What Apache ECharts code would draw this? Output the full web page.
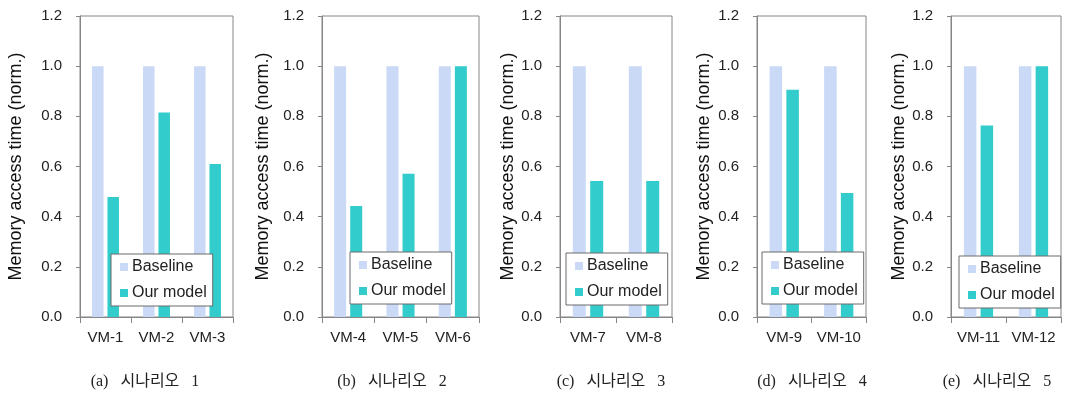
<!DOCTYPE html>
<html>
<head>
<meta charset="utf-8">
<script src="https://cdn.jsdelivr.net/npm/echarts@6/dist/echarts.min.js"></script>
<style>
html,body{margin:0;padding:0;background:#fff;}
#chart{width:1067px;height:395px;}
</style>
</head>
<body>
<div id="chart"></div>
<script>
// ---- data ----
const cats1 = ['VM-1', 'VM-2', 'VM-3'];
const cats2 = ['VM-4', 'VM-5', 'VM-6'];
const cats3 = ['VM-7', 'VM-8'];
const cats4 = ['VM-9', 'VM-10'];
const cats5 = ['VM-11', 'VM-12'];
const baseline1 = [1.0, 1.0, 1.0];
const baseline2 = [1.0, 1.0, 1.0];
const baseline3 = [1.0, 1.0];
const baseline4 = [1.0, 1.0];
const baseline5 = [1.0, 1.0];
const ours1 = [0.478, 0.815, 0.61];
const ours2 = [0.443, 0.571, 1.0];
const ours3 = [0.542, 0.542];
const ours4 = [0.906, 0.494];
const ours5 = [0.763, 1.0];
const seriesNames = ['Baseline', 'Our model'];
const yTicks = [0.0, 0.2, 0.4, 0.6, 0.8, 1.0, 1.2];
const yAxisTitle = 'Memory access time (norm.)';
const captions = ['(a) 시나리오 1', '(b) 시나리오 2', '(c) 시나리오 3', '(d) 시나리오 4', '(e) 시나리오 5'];

const panels = [
  {cats: cats1, base: baseline1, ours: ours1},
  {cats: cats2, base: baseline2, ours: ours2},
  {cats: cats3, base: baseline3, ours: ours3},
  {cats: cats4, base: baseline4, ours: ours4},
  {cats: cats5, base: baseline5, ours: ours5}
];

// ---- layout (styling) ----
const layout = [
  {left: 80,  width: 153, nameGap: 55, barW: 11.5, legend: {left: 111, top: 254}, capX: 145},
  {left: 322, width: 157, nameGap: 50, barW: 12,   legend: {left: 350, top: 252}, capX: 392},
  {left: 560, width: 112, nameGap: 43, barW: 13,   legend: {left: 566, top: 253}, capX: 611},
  {left: 757, width: 109, nameGap: 44, barW: 12.5, legend: {left: 762, top: 252}, capX: 812},
  {left: 951, width: 110, nameGap: 42, barW: 12.5, legend: {left: 959, top: 256}, capX: 997}
];
const GRID_TOP = 16, GRID_H = 301;
const AXIS_COLOR = '#868686';
const TEXT_COLOR = '#222222';
const C_BASE = '#C9D9F6';
const C_OURS = '#33CCCC';
const SANS = '"Liberation Sans", Arial, sans-serif';

const grid = [], xAxis = [], yAxis = [], series = [], legend = [], title = [];
panels.forEach((p, i) => {
  const L = layout[i];
  grid.push({left: L.left, top: GRID_TOP, width: L.width, height: GRID_H,
    show: true, borderColor: AXIS_COLOR, borderWidth: 1, backgroundColor: 'transparent'});
  xAxis.push({type: 'category', gridIndex: i, data: p.cats,
    axisLine: {lineStyle: {color: AXIS_COLOR, width: 1}},
    axisTick: {show: true, length: 6, lineStyle: {color: AXIS_COLOR}},
    axisLabel: {interval: 0, margin: 13, fontSize: 15, color: TEXT_COLOR, fontFamily: SANS},
    splitLine: {show: false}});
  yAxis.push({type: 'value', gridIndex: i, min: yTicks[0], max: yTicks[yTicks.length - 1],
    interval: yTicks[1] - yTicks[0],
    name: yAxisTitle, nameLocation: 'middle', nameGap: L.nameGap,
    nameTextStyle: {fontSize: 18, color: '#111', fontFamily: SANS},
    axisLine: {show: true, lineStyle: {color: AXIS_COLOR, width: 1}},
    axisTick: {show: true, length: 4, lineStyle: {color: AXIS_COLOR}},
    axisLabel: {margin: 18, fontSize: 15, color: TEXT_COLOR, fontFamily: SANS,
      formatter: v => v.toFixed(1)},
    splitLine: {show: false}});
  series.push({name: seriesNames[0], type: 'bar', xAxisIndex: i, yAxisIndex: i,
    data: p.base, barWidth: L.barW, barGap: '34%', itemStyle: {color: C_BASE}});
  series.push({name: seriesNames[1], type: 'bar', xAxisIndex: i, yAxisIndex: i,
    data: p.ours, barWidth: L.barW, barGap: '34%', itemStyle: {color: C_OURS}});
  legend.push({left: L.legend.left, top: L.legend.top, orient: 'vertical',
    data: seriesNames.map(n => ({name: n, icon: 'rect'})),
    itemWidth: 8, itemHeight: 8, itemGap: 10,
    padding: [5, 6, 5, 9],
    backgroundColor: '#fff', borderColor: '#6b6b6b', borderWidth: 1,
    textStyle: {fontSize: 16, color: TEXT_COLOR, fontFamily: SANS, padding: [0, 0, 0, -1]},
    selectedMode: false});
  title.push({text: captions[i].replace(/ /g, '   '), left: L.capX, top: 374, textAlign: 'center', padding: 0,
    textStyle: {fontSize: 16, fontWeight: 'normal', color: '#222',
      fontFamily: '"Liberation Serif", "Noto Sans CJK KR", serif'}});
});

const chart = echarts.init(document.getElementById('chart'), null, {renderer: 'canvas'});
chart.setOption({
  animation: false,
  backgroundColor: '#fff',
  title, grid, xAxis, yAxis, series, legend
});
</script>
</body>
</html>
